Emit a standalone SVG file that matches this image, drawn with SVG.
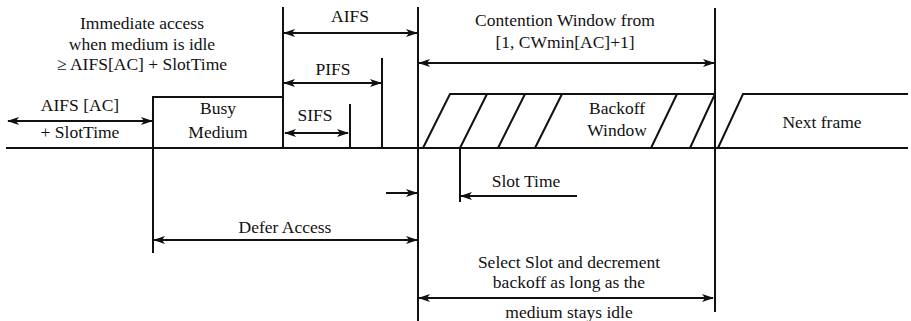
<svg xmlns="http://www.w3.org/2000/svg" width="911" height="321" viewBox="0 0 911 321">
<style>
.l{stroke:#111;stroke-width:2;fill:none}
.a{stroke:#111;stroke-width:2;fill:none;marker-end:url(#ah)}
.d{stroke:#111;stroke-width:2;fill:none;marker-start:url(#ahs);marker-end:url(#ah)}
</style>
<defs>
<marker id="ah" viewBox="0 0 12 8" refX="11" refY="4" markerWidth="12" markerHeight="8" markerUnits="userSpaceOnUse" orient="auto">
<path d="M0,0 L12,4 L0,8 L3,4 Z" fill="#111"/>
</marker>
<marker id="ahs" viewBox="0 0 12 8" refX="1" refY="4" markerWidth="12" markerHeight="8" markerUnits="userSpaceOnUse" orient="auto">
<path d="M12,0 L0,4 L12,8 L9,4 Z" fill="#111"/>
</marker>
</defs>
<g id="medium-line"><path class="l" d="M6,148 H908"/></g>
<g id="busy-medium">
<path class="l" d="M153,253 V97 H283 V148"/>
<text x="218" y="114" font-family="Liberation Serif" font-size="17.5" text-anchor="middle" fill="#111">Busy</text>
<text x="218" y="138" font-family="Liberation Serif" font-size="17.5" text-anchor="middle" fill="#111">Medium</text>
</g>
<g id="backoff-window">
<path class="l" d="M423,148 L450,94 H715"/>
<path class="l" d="M460,148 L487,94 M498,148 L525,94 M535,148 L562,94 M651,148 L677,94 M690,148 L715,94"/>
<text x="617" y="114" font-family="Liberation Serif" font-size="17.5" text-anchor="middle" fill="#111">Backoff</text>
<text x="617" y="136" font-family="Liberation Serif" font-size="17.5" text-anchor="middle" fill="#111">Window</text>
</g>
<g id="next-frame">
<path class="l" d="M718,148 L743,94 H908"/>
<text x="822" y="128" font-family="Liberation Serif" font-size="17.5" text-anchor="middle" fill="#111">Next frame</text>
</g>
<g id="guides">
<path class="l" d="M283,7 V148"/>
<path class="l" d="M418,7 V321"/>
<path class="l" d="M382,58 V148"/>
<path class="l" d="M350,104 V148"/>
<path class="l" d="M715,8 V312"/>
<path class="l" d="M460,148 V202"/>
</g>
<g id="labels">
<text x="142" y="29" font-family="Liberation Serif" font-size="17.5" text-anchor="middle" fill="#111">Immediate access</text>
<text x="142" y="50" font-family="Liberation Serif" font-size="17.5" text-anchor="middle" fill="#111">when medium is idle</text>
<text x="142" y="70" font-family="Liberation Serif" font-size="17.5" text-anchor="middle" fill="#111">≥  AIFS[AC] + SlotTime</text>
<text x="80" y="111" font-family="Liberation Serif" font-size="17.5" text-anchor="middle" fill="#111">AIFS [AC]</text>
<text x="80" y="138" font-family="Liberation Serif" font-size="17.5" text-anchor="middle" fill="#111">+ SlotTime</text>
<text x="350" y="22" font-family="Liberation Serif" font-size="17.5" text-anchor="middle" fill="#111">AIFS</text>
<text x="333" y="75" font-family="Liberation Serif" font-size="17.5" text-anchor="middle" fill="#111">PIFS</text>
<text x="315" y="121" font-family="Liberation Serif" font-size="17.5" text-anchor="middle" fill="#111">SIFS</text>
<text x="565" y="26" font-family="Liberation Serif" font-size="17.5" text-anchor="middle" fill="#111">Contention Window from</text>
<text x="565" y="48" font-family="Liberation Serif" font-size="17.5" text-anchor="middle" fill="#111">[1, CWmin[AC]+1]</text>
<text x="526" y="187" font-family="Liberation Serif" font-size="17.5" text-anchor="middle" fill="#111">Slot Time</text>
<text x="285" y="233" font-family="Liberation Serif" font-size="17.5" text-anchor="middle" fill="#111">Defer Access</text>
<text x="569" y="268" font-family="Liberation Serif" font-size="17.5" text-anchor="middle" fill="#111">Select Slot and decrement</text>
<text x="569" y="288" font-family="Liberation Serif" font-size="17.5" text-anchor="middle" fill="#111">backoff as long as the</text>
<text x="569" y="318" font-family="Liberation Serif" font-size="17.5" text-anchor="middle" fill="#111">medium stays idle</text>
</g>
<g id="connectors">
<path class="d" d="M8,121 H152"/>
<path class="d" d="M284,33 H417"/>
<path class="d" d="M284,83 H381"/>
<path class="d" d="M285,133 H348"/>
<path class="d" d="M419,63 H714"/>
<path class="a" d="M577,196 H461"/>
<path class="a" d="M386,193 H417"/>
<path class="d" d="M154,240 H417"/>
<path class="d" d="M419,298 H713"/>
</g>
</svg>
